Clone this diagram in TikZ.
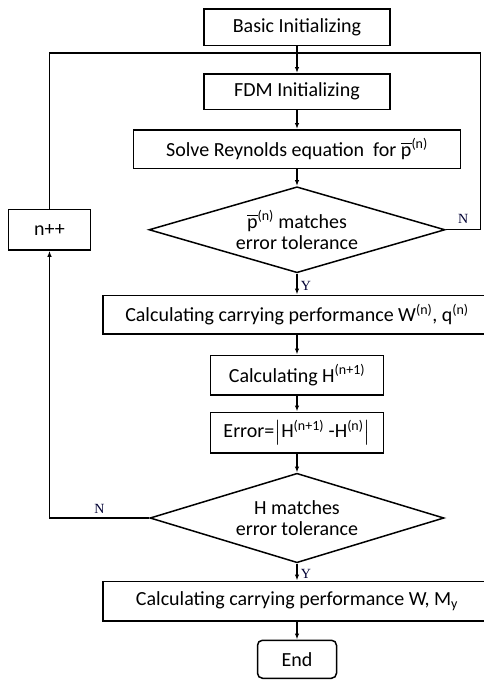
\documentclass[tikz,border=0pt]{standalone}
\usepackage{amsmath}
\usepackage{fontspec}
\setmainfont{Carlito}
\newfontfamily\labelfont{Liberation Serif}
\usepackage{tikz}
\usetikzlibrary{arrows.meta,positioning,shapes.geometric}

\begin{document}
\begin{tikzpicture}[
    node distance=20pt,
    box/.style={rectangle, draw, line width=1.5pt, align=center, inner sep=2pt, minimum height=38.5pt, font=\fontsize{20}{22}\selectfont},
    decision/.style={diamond, aspect=3.4, draw, line width=1.5pt, align=center, inner sep=0pt, minimum width=296pt, minimum height=86pt, font=\fontsize{20}{21}\selectfont},
    yn/.style={font=\labelfont\fontsize{14}{16}\selectfont, text=black!80!blue},
    arrow/.style={-{Latex[length=6pt,width=4.5pt]}, line width=1.2pt},
    line/.style={line width=1.2pt}
]
\useasboundingbox (0,0) rectangle (483pt,-681pt);
\node[box, minimum width=186pt, minimum height=36.5pt] (basic) at (297pt,-27pt) {Basic Initializing};
\node[box, minimum width=186pt, minimum height=35.5pt, below=27pt of basic] (fdm) {FDM Initializing};
\node[box, minimum width=327pt, below=19pt of fdm] (solve) {Solve Reynolds equation\ \ for $\overline{\text{p}}$\textsuperscript{(n)}};
\node[decision, below=17pt of solve] (check1) {$\overline{\text{p}}$\textsuperscript{(n)} matches\\error tolerance};
\node[box, minimum width=82pt, minimum height=40.5pt, left=57pt of check1] (count) {n++};
\node[box, minimum width=388pt, below=21pt of check1] (perf1) {Calculating carrying performance W\textsuperscript{(n)}, q\textsuperscript{(n)}};
\node[box, minimum width=173pt, minimum height=39.5pt, below=20pt of perf1] (calch) {Calculating H\textsuperscript{(n+1)}};
\node[box, minimum width=173pt, minimum height=40.5pt, below=16pt of calch] (err) {Error=$\bigl|$H\textsuperscript{(n+1)} -H\textsuperscript{(n)}$\bigr|$};
\node[decision, minimum width=294pt, minimum height=89.5pt, below=19pt of err] (check2) {H matches\\error tolerance};
\node[box, minimum width=388pt, minimum height=39.5pt, below=17pt of check2] (perf2) {Calculating carrying performance W, M\textsubscript{y}};
\node[box, rounded corners=5pt, minimum width=79pt, minimum height=38pt, below=18pt of perf2] (finish) {End};
\coordinate[below=7pt of basic] (join);
% main flow
\draw[line] (basic) -- (join);
\draw[arrow] (join) -- (fdm);
\draw[arrow] (fdm) -- (solve);
\draw[arrow] (solve) -- (check1);
\draw[arrow] (check1) -- node[yn, right, yshift=-2pt] {Y} (perf1);
\draw[arrow] (perf1) -- (calch);
\draw[arrow] (calch) -- (err);
\draw[arrow] (err) -- (check2);
\draw[arrow] (check2) -- node[yn, right, yshift=-2pt] {Y} (perf2);
\draw[arrow] (perf2) -- (finish);
% loops
\draw[line] (check1.east) -- ++(35pt,0) node[yn, midway, above, yshift=2pt] {N} |- (join);
\draw[line] (count.north) |- (join);
\draw[arrow] (check2.west) -- node[yn, above, yshift=1pt] {N} (check2.west -| count.south) -- (count.south);
\end{tikzpicture}
\end{document}
